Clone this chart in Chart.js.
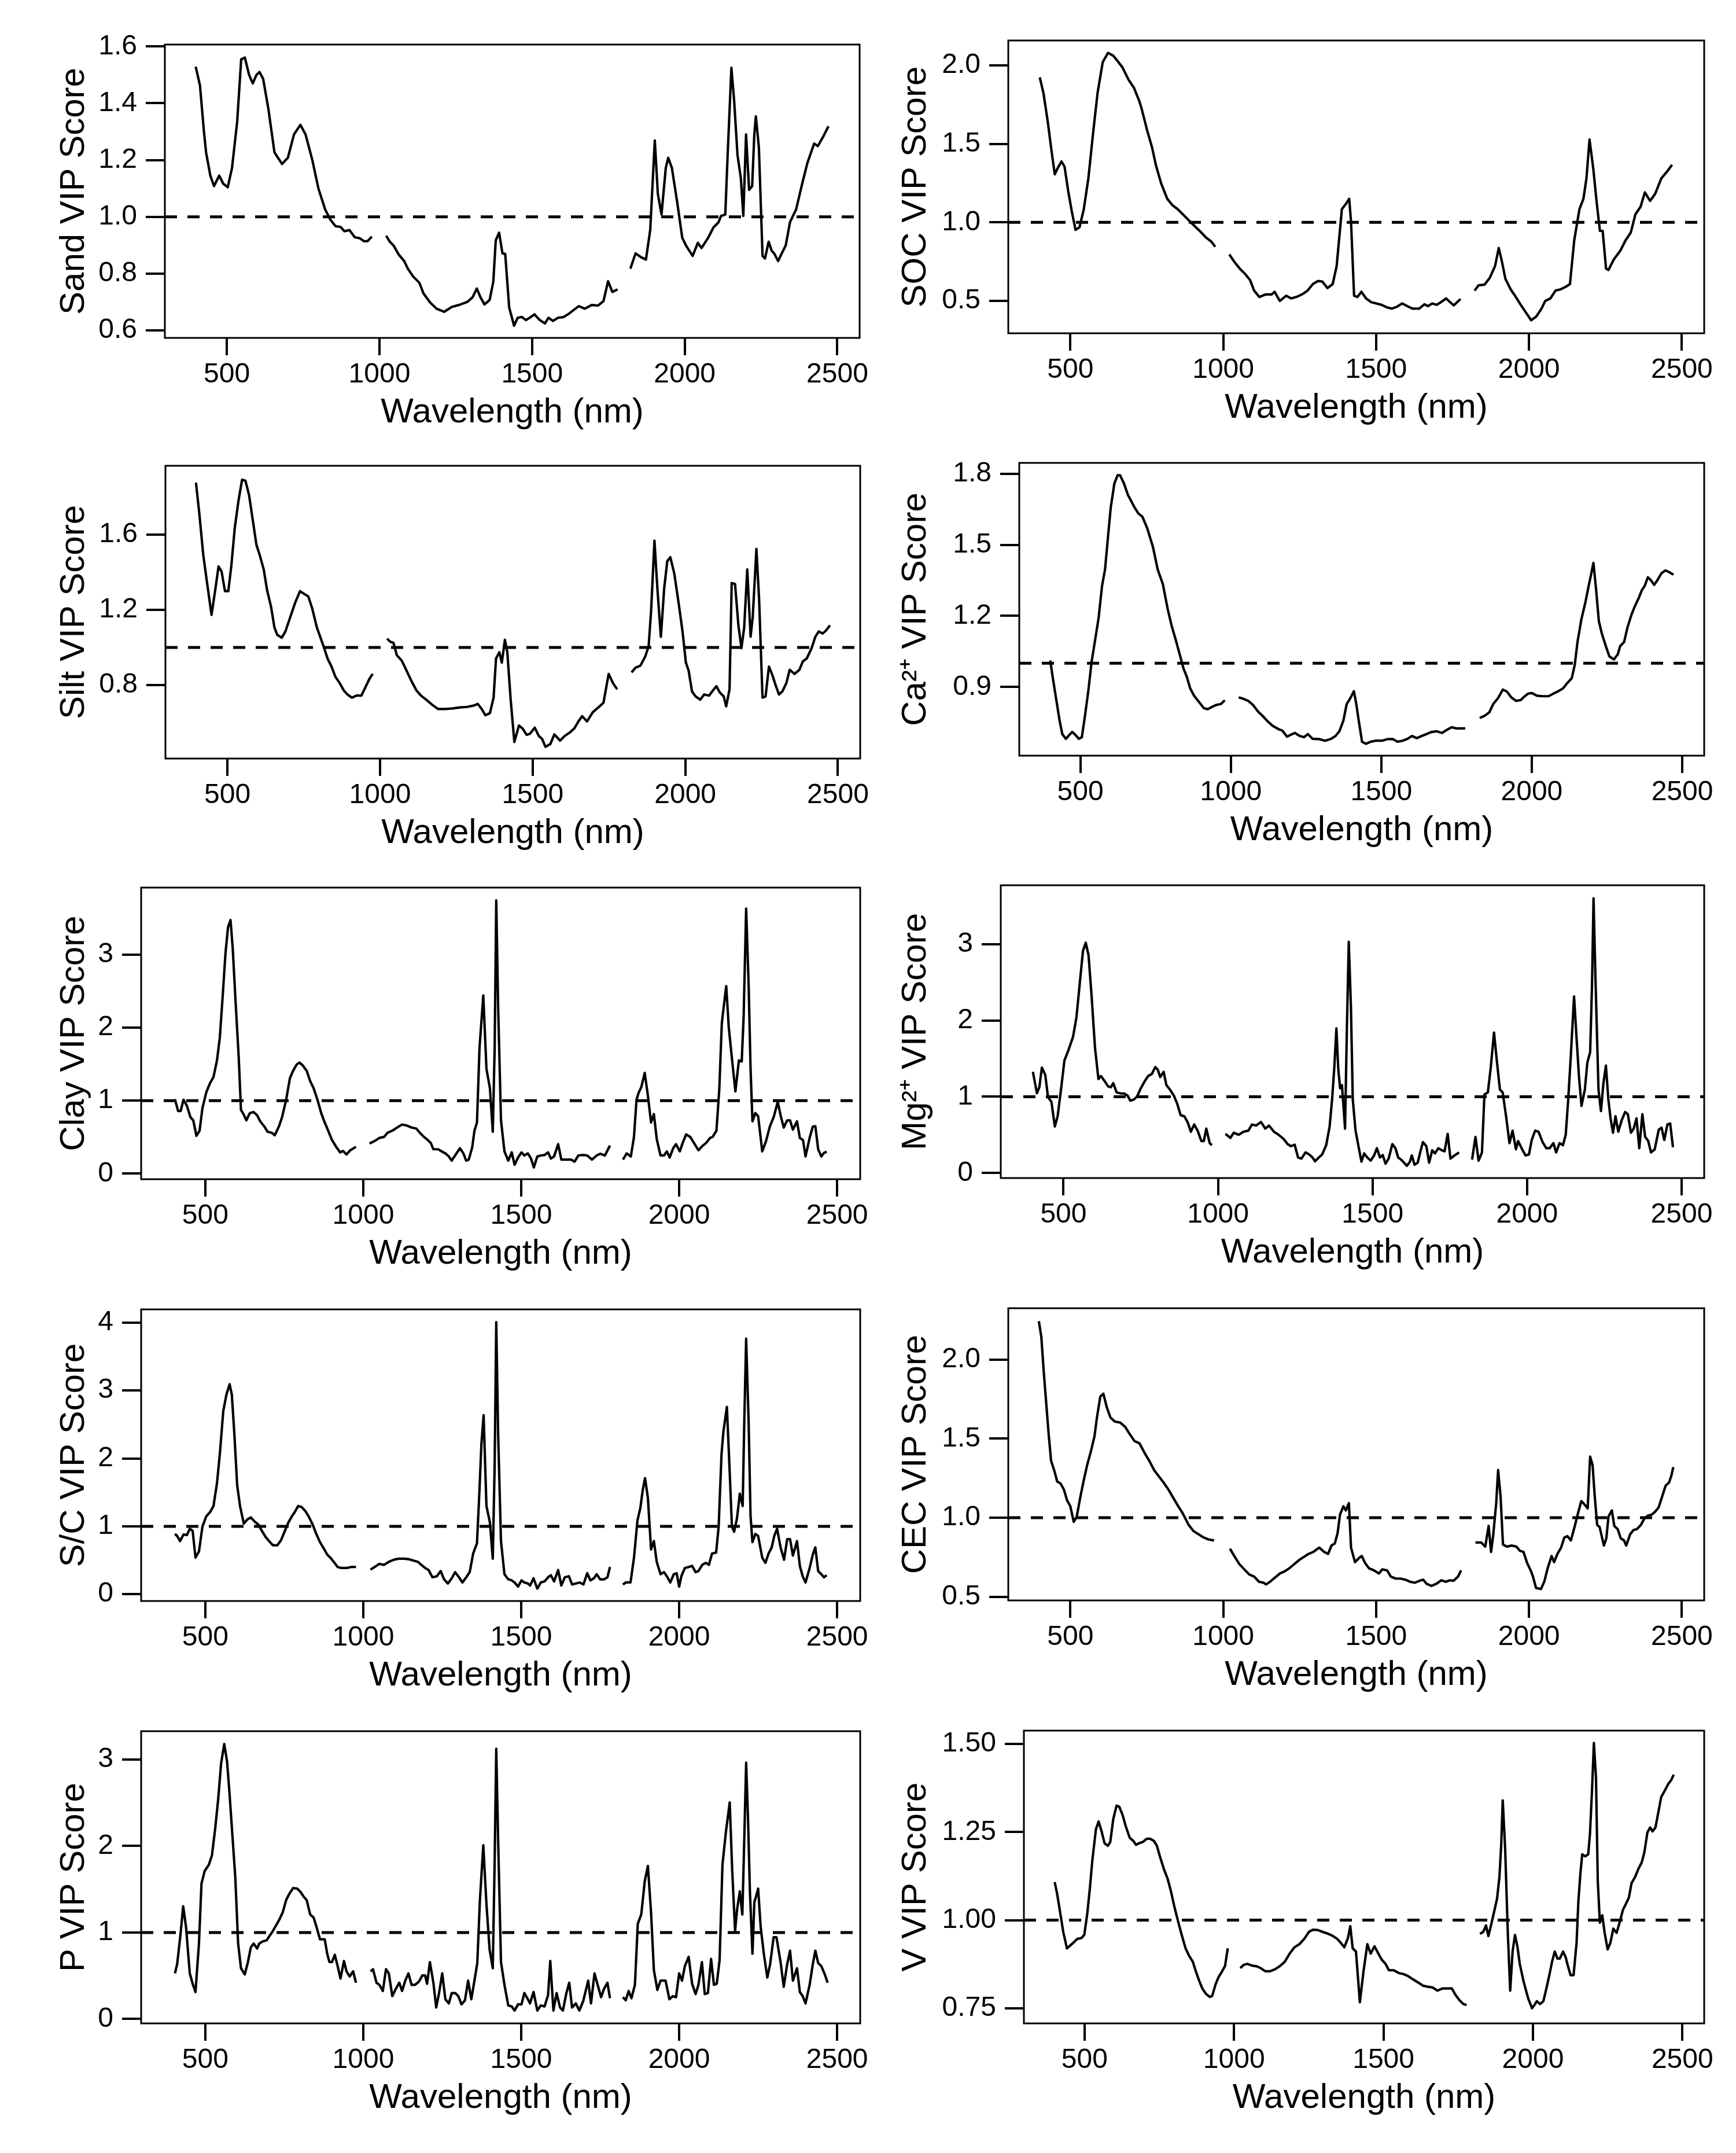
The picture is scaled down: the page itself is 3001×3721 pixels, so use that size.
<!DOCTYPE html>
<html><head><meta charset="utf-8">
<script src="https://cdn.jsdelivr.net/npm/chart.js@4.4.1/dist/chart.umd.min.js"></script>
<style>
html,body{margin:0;padding:0;background:#fff;}
body{width:3001px;height:3721px;position:relative;overflow:hidden;}
canvas{position:absolute;}
</style></head><body>
<script>
// ---------- data (wavelength nm, VIP score); null marks the removed water bands ----------
const wavelengthTicks = [500, 1000, 1500, 2000, 2500];
const wavelengthLabels = ['500', '1000', '1500', '2000', '2500'];
const vipThreshold = 1;

const sand = [[398,1.529],[412,1.463],[425,1.30],[432,1.227],[446,1.145],[458,1.108],[475,1.145],[488,1.117],[503,1.104],[517,1.172],[534,1.336],[547,1.555],[559,1.561],[573,1.50],[585,1.47],[597,1.50],[607,1.51],[619,1.486],[636,1.381],[656,1.227],[681,1.186],[700,1.208],[720,1.29],[741,1.324],[758,1.29],[780,1.20],[800,1.10],[822,1.026],[839,0.99],[856,0.967],[873,0.964],[885,0.949],[902,0.953],[919,0.928],[936,0.924],[949,0.914],[961,0.914],[975,0.93],[1000,null],[1022,0.933],[1034,0.912],[1046,0.899],[1063,0.867],[1081,0.844],[1093,0.817],[1110,0.79],[1131,0.767],[1144,0.73],[1166,0.698],[1187,0.676],[1212,0.665],[1237,0.682],[1263,0.69],[1288,0.70],[1305,0.716],[1319,0.747],[1331,0.716],[1344,0.691],[1361,0.707],[1373,0.771],[1381,0.917],[1392,0.944],[1403,0.871],[1412,0.869],[1425,0.68],[1441,0.616],[1453,0.644],[1466,0.647],[1480,0.636],[1492,0.644],[1508,0.656],[1525,0.636],[1542,0.624],[1554,0.644],[1568,0.633],[1585,0.644],[1602,0.646],[1619,0.657],[1636,0.671],[1653,0.685],[1673,0.676],[1695,0.689],[1716,0.687],[1734,0.703],[1749,0.773],[1763,0.735],[1780,0.744],[1800,null],[1822,0.817],[1839,0.871],[1856,0.858],[1873,0.849],[1887,0.953],[1902,1.269],[1912,1.081],[1924,1.008],[1938,1.172],[1946,1.208],[1958,1.172],[1975,1.054],[1992,0.926],[2004,0.899],[2026,0.862],[2043,0.908],[2055,0.890],[2077,0.926],[2094,0.962],[2111,0.981],[2119,1.003],[2133,1.008],[2141,1.227],[2153,1.525],[2162,1.409],[2173,1.217],[2184,1.136],[2192,1.003],[2201,1.29],[2211,1.095],[2221,1.108],[2228,1.29],[2233,1.354],[2243,1.245],[2255,0.862],[2263,0.853],[2275,0.912],[2285,0.88],[2293,0.871],[2306,0.844],[2318,0.871],[2331,0.899],[2345,0.981],[2365,1.026],[2385,1.117],[2402,1.19],[2424,1.258],[2436,1.249],[2453,1.281],[2471,1.319]];

const soc = [[400,1.923],[412,1.824],[426,1.643],[438,1.462],[449,1.306],[459,1.347],[471,1.388],[481,1.355],[493,1.199],[505,1.067],[517,0.952],[530,0.969],[544,1.084],[559,1.281],[574,1.561],[589,1.824],[606,2.021],[623,2.079],[640,2.062],[657,2.021],[670,1.988],[691,1.906],[708,1.857],[725,1.775],[733,1.725],[750,1.594],[767,1.479],[780,1.363],[797,1.248],[817,1.150],[834,1.109],[851,1.084],[868,1.051],[885,1.018],[902,0.985],[924,0.944],[944,0.903],[961,0.878],[974,0.845],[1000,null],[1020,0.796],[1037,0.747],[1054,0.706],[1071,0.673],[1088,0.632],[1101,0.566],[1118,0.525],[1138,0.541],[1158,0.541],[1168,0.558],[1185,0.50],[1206,0.533],[1222,0.516],[1239,0.525],[1260,0.544],[1276,0.566],[1293,0.607],[1310,0.627],[1324,0.623],[1341,0.582],[1358,0.607],[1371,0.722],[1388,1.084],[1401,1.117],[1412,1.150],[1418,1.003],[1428,0.533],[1439,0.525],[1452,0.558],[1467,0.516],[1484,0.492],[1501,0.484],[1518,0.475],[1535,0.459],[1552,0.451],[1569,0.464],[1585,0.484],[1602,0.467],[1619,0.451],[1641,0.451],[1658,0.479],[1670,0.467],[1683,0.484],[1698,0.475],[1712,0.492],[1729,0.516],[1742,0.492],[1754,0.472],[1776,0.512],[1800,null],[1822,0.566],[1835,0.599],[1855,0.604],[1872,0.648],[1889,0.722],[1901,0.837],[1911,0.755],[1923,0.640],[1940,0.574],[1957,0.525],[1973,0.475],[1990,0.426],[2007,0.377],[2024,0.401],[2041,0.451],[2053,0.50],[2070,0.516],[2087,0.566],[2104,0.574],[2121,0.591],[2134,0.607],[2148,0.886],[2165,1.084],[2178,1.150],[2188,1.281],[2198,1.528],[2210,1.347],[2222,1.117],[2232,0.946],[2241,0.946],[2252,0.706],[2260,0.697],[2277,0.763],[2299,0.821],[2316,0.886],[2333,0.936],[2348,1.051],[2365,1.100],[2379,1.191],[2396,1.137],[2413,1.183],[2433,1.281],[2451,1.322],[2468,1.367]];

const silt = [[397,1.874],[408,1.71],[421,1.49],[432,1.359],[448,1.173],[460,1.304],[471,1.430],[481,1.403],[492,1.299],[503,1.299],[513,1.436],[524,1.633],[536,1.775],[548,1.890],[559,1.885],[571,1.808],[584,1.666],[595,1.545],[606,1.490],[619,1.414],[630,1.304],[643,1.216],[654,1.107],[663,1.068],[678,1.052],[690,1.085],[706,1.162],[722,1.238],[738,1.299],[754,1.282],[765,1.271],[778,1.206],[793,1.107],[805,1.052],[817,0.997],[828,0.942],[841,0.899],[854,0.844],[868,0.811],[881,0.773],[893,0.751],[908,0.734],[923,0.745],[939,0.745],[952,0.789],[965,0.833],[976,0.860],[1000,null],[1023,1.047],[1034,1.030],[1044,1.025],[1055,0.959],[1071,0.931],[1087,0.877],[1103,0.822],[1119,0.773],[1134,0.745],[1155,0.718],[1171,0.696],[1190,0.674],[1214,0.674],[1238,0.677],[1262,0.682],[1285,0.685],[1309,0.693],[1320,0.701],[1333,0.674],[1345,0.641],[1360,0.652],[1372,0.734],[1380,0.942],[1391,0.975],[1399,0.920],[1409,1.041],[1417,0.975],[1428,0.723],[1440,0.499],[1455,0.586],[1467,0.570],[1480,0.537],[1491,0.542],[1507,0.575],[1520,0.531],[1531,0.515],[1542,0.473],[1558,0.488],[1571,0.539],[1590,0.506],[1605,0.531],[1621,0.548],[1637,0.572],[1650,0.608],[1662,0.636],[1678,0.608],[1697,0.657],[1713,0.679],[1732,0.707],[1749,0.860],[1763,0.811],[1777,0.778],[1800,null],[1824,0.868],[1837,0.893],[1853,0.904],[1869,0.953],[1880,1.008],[1888,1.194],[1899,1.567],[1909,1.304],[1920,1.057],[1931,1.315],[1941,1.458],[1951,1.479],[1964,1.392],[1978,1.238],[1991,1.085],[2002,0.920],[2011,0.877],[2022,0.767],[2034,0.740],[2049,0.723],[2062,0.751],[2078,0.745],[2091,0.773],[2102,0.795],[2113,0.762],[2126,0.740],[2134,0.688],[2145,0.778],[2152,1.342],[2163,1.337],[2174,1.118],[2184,0.997],[2193,1.107],[2203,1.414],[2214,1.057],[2221,1.162],[2233,1.523],[2242,1.249],[2253,0.734],[2263,0.740],[2274,0.899],[2285,0.855],[2296,0.800],[2307,0.751],[2318,0.767],[2331,0.811],[2342,0.882],[2358,0.860],[2374,0.882],[2385,0.926],[2398,0.942],[2414,0.997],[2426,1.057],[2437,1.085],[2450,1.074],[2461,1.090],[2474,1.118]];

const calcium = [[400,1.012],[408,0.942],[420,0.846],[431,0.758],[440,0.701],[452,0.681],[463,0.697],[473,0.710],[484,0.697],[495,0.681],[505,0.688],[516,0.784],[527,0.889],[537,1.003],[548,1.090],[561,1.195],[572,1.326],[582,1.396],[592,1.536],[601,1.658],[613,1.759],[624,1.794],[632,1.794],[645,1.759],[658,1.711],[669,1.685],[680,1.658],[693,1.632],[706,1.619],[722,1.571],[741,1.492],[757,1.396],[774,1.335],[790,1.230],[803,1.160],[817,1.099],[830,1.038],[843,0.977],[854,0.942],[865,0.894],[878,0.863],[894,0.837],[910,0.811],[923,0.806],[936,0.815],[951,0.824],[967,0.828],[980,0.844],[1000,null],[1026,0.856],[1042,0.850],[1058,0.841],[1074,0.824],[1090,0.797],[1107,0.776],[1123,0.754],[1139,0.736],[1160,0.721],[1171,0.716],[1187,0.690],[1200,0.699],[1213,0.706],[1229,0.693],[1243,0.688],[1256,0.701],[1272,0.681],[1293,0.680],[1313,0.673],[1332,0.680],[1348,0.693],[1361,0.714],[1374,0.758],[1385,0.828],[1396,0.850],[1409,0.882],[1417,0.828],[1425,0.758],[1436,0.669],[1449,0.660],[1465,0.669],[1481,0.673],[1502,0.673],[1522,0.680],[1538,0.680],[1554,0.669],[1570,0.673],[1586,0.680],[1602,0.693],[1618,0.684],[1634,0.693],[1650,0.701],[1667,0.710],[1683,0.713],[1702,0.706],[1718,0.719],[1734,0.730],[1750,0.725],[1779,0.725],[1800,null],[1827,0.769],[1843,0.778],[1859,0.793],[1872,0.828],[1888,0.853],[1904,0.889],[1917,0.881],[1932,0.856],[1948,0.841],[1964,0.845],[1975,0.859],[1988,0.872],[2001,0.874],[2017,0.863],[2036,0.861],[2056,0.861],[2072,0.872],[2088,0.882],[2104,0.894],[2117,0.915],[2133,0.937],[2143,0.994],[2152,1.090],[2165,1.186],[2178,1.256],[2189,1.326],[2197,1.374],[2205,1.424],[2214,1.309],[2223,1.178],[2233,1.125],[2246,1.073],[2258,1.029],[2273,1.016],[2286,1.038],[2294,1.073],[2307,1.090],[2318,1.151],[2331,1.204],[2342,1.239],[2355,1.274],[2366,1.309],[2375,1.326],[2386,1.363],[2395,1.352],[2407,1.331],[2418,1.352],[2431,1.380],[2444,1.392],[2455,1.386],[2471,1.374]];

const clay = [[404,1.018],[414,0.857],[422,0.857],[431,1.012],[442,0.928],[453,0.772],[462,0.730],[472,0.518],[482,0.588],[491,0.899],[503,1.111],[515,1.239],[526,1.323],[537,1.550],[546,1.861],[555,2.426],[564,3.020],[572,3.373],[580,3.472],[587,3.076],[595,2.426],[606,1.578],[613,0.871],[621,0.815],[630,0.730],[641,0.829],[653,0.843],[664,0.800],[674,0.716],[687,0.645],[697,0.574],[710,0.560],[720,0.526],[733,0.645],[743,0.772],[756,1.012],[768,1.309],[778,1.408],[789,1.493],[798,1.521],[809,1.479],[821,1.408],[832,1.267],[843,1.168],[855,1.012],[867,0.829],[878,0.701],[889,0.588],[901,0.461],[913,0.376],[927,0.291],[936,0.311],[947,0.263],[959,0.320],[977,0.368],[1000,null],[1020,0.413],[1036,0.447],[1051,0.489],[1066,0.503],[1077,0.560],[1092,0.588],[1107,0.631],[1123,0.673],[1138,0.659],[1153,0.631],[1168,0.617],[1179,0.560],[1192,0.503],[1204,0.461],[1214,0.419],[1222,0.334],[1237,0.334],[1248,0.305],[1260,0.277],[1271,0.235],[1280,0.178],[1293,0.263],[1306,0.348],[1317,0.277],[1326,0.178],[1334,0.192],[1345,0.362],[1352,0.588],[1360,0.701],[1368,1.719],[1380,2.440],[1390,1.436],[1401,1.168],[1410,0.574],[1416,1.719],[1421,3.741],[1427,2.285],[1436,0.730],[1447,0.305],[1459,0.178],[1470,0.291],[1479,0.122],[1490,0.221],[1501,0.291],[1510,0.249],[1521,0.277],[1531,0.207],[1540,0.085],[1551,0.235],[1562,0.249],[1574,0.255],[1585,0.291],[1594,0.207],[1604,0.235],[1617,0.404],[1627,0.192],[1643,0.192],[1658,0.192],[1669,0.164],[1681,0.249],[1696,0.255],[1709,0.249],[1724,0.192],[1739,0.249],[1750,0.272],[1765,0.249],[1781,0.385],[1800,null],[1822,0.192],[1834,0.277],[1847,0.235],[1857,0.503],[1865,1.012],[1872,1.111],[1880,1.182],[1891,1.380],[1901,1.069],[1911,0.701],[1920,0.815],[1929,0.475],[1941,0.249],[1952,0.249],[1961,0.305],[1970,0.221],[1981,0.348],[1990,0.404],[2002,0.305],[2011,0.419],[2022,0.537],[2035,0.503],[2047,0.419],[2061,0.320],[2073,0.376],[2085,0.419],[2098,0.489],[2106,0.503],[2118,0.588],[2127,1.154],[2135,2.059],[2141,2.285],[2149,2.567],[2157,2.002],[2169,1.493],[2178,1.126],[2189,1.550],[2198,1.535],[2204,2.143],[2212,3.628],[2220,2.567],[2226,1.436],[2232,0.716],[2241,0.829],[2250,0.786],[2263,0.305],[2275,0.447],[2287,0.645],[2300,0.786],[2312,0.984],[2321,0.800],[2331,0.631],[2342,0.730],[2351,0.730],[2360,0.603],[2373,0.716],[2382,0.489],[2392,0.461],[2400,0.235],[2413,0.489],[2423,0.645],[2431,0.650],[2440,0.334],[2450,0.235],[2458,0.283],[2467,0.300]];

const magnesium = [[401,1.327],[414,1.046],[422,1.127],[430,1.381],[441,1.286],[450,0.992],[461,0.934],[472,0.609],[481,0.744],[492,1.096],[503,1.476],[516,1.611],[531,1.787],[542,2.044],[553,2.504],[563,2.911],[572,3.019],[581,2.856],[591,2.315],[602,1.638],[613,1.232],[621,1.272],[633,1.205],[644,1.137],[653,1.124],[661,1.178],[672,1.056],[685,1.043],[696,1.043],[707,1.016],[716,0.948],[727,0.962],[738,1.002],[750,1.110],[763,1.205],[774,1.272],[786,1.299],[797,1.389],[805,1.354],[813,1.259],[824,1.327],[833,1.151],[844,1.096],[857,1.016],[868,0.907],[879,0.758],[891,0.744],[902,0.663],[912,0.541],[923,0.636],[934,0.555],[946,0.419],[954,0.419],[962,0.582],[973,0.392],[980,0.365],[1000,null],[1024,0.514],[1040,0.460],[1051,0.528],[1067,0.501],[1082,0.541],[1098,0.555],[1110,0.636],[1123,0.622],[1139,0.669],[1153,0.582],[1165,0.622],[1181,0.541],[1196,0.501],[1212,0.447],[1225,0.379],[1236,0.352],[1248,0.371],[1259,0.203],[1270,0.189],[1283,0.270],[1295,0.243],[1306,0.203],[1314,0.154],[1326,0.203],[1337,0.243],[1350,0.365],[1361,0.609],[1369,0.961],[1376,1.367],[1383,1.895],[1389,1.367],[1395,1.110],[1401,1.151],[1411,0.582],[1417,1.909],[1423,3.032],[1430,2.180],[1436,0.961],[1445,0.555],[1455,0.338],[1464,0.149],[1473,0.257],[1483,0.203],[1494,0.162],[1505,0.230],[1514,0.325],[1524,0.203],[1533,0.235],[1542,0.122],[1552,0.189],[1564,0.379],[1574,0.325],[1583,0.203],[1592,0.176],[1602,0.135],[1611,0.094],[1621,0.149],[1627,0.230],[1636,0.108],[1646,0.135],[1655,0.284],[1663,0.406],[1674,0.352],[1683,0.135],[1693,0.298],[1702,0.257],[1713,0.325],[1724,0.298],[1733,0.284],[1743,0.514],[1752,0.189],[1765,0.230],[1780,0.270],[1800,null],[1822,0.176],[1833,0.474],[1843,0.162],[1854,0.270],[1862,1.029],[1873,1.056],[1882,1.367],[1893,1.841],[1902,1.476],[1912,1.096],[1921,1.056],[1932,0.744],[1943,0.392],[1953,0.555],[1964,0.311],[1971,0.419],[1984,0.311],[1995,0.230],[2006,0.243],[2015,0.433],[2026,0.555],[2037,0.541],[2050,0.406],[2062,0.325],[2073,0.325],[2085,0.392],[2094,0.270],[2105,0.392],[2116,0.365],[2125,0.501],[2133,0.961],[2141,1.503],[2152,2.315],[2160,1.773],[2168,1.259],[2176,0.880],[2187,1.096],[2195,1.448],[2204,1.584],[2210,2.450],[2215,3.601],[2221,2.586],[2231,1.096],[2239,0.812],[2247,1.178],[2255,1.408],[2263,0.961],[2270,0.717],[2278,0.528],[2286,0.744],[2295,0.541],[2306,0.690],[2317,0.799],[2326,0.771],[2336,0.528],[2345,0.582],[2354,0.717],[2363,0.325],[2373,0.771],[2382,0.474],[2392,0.419],[2401,0.270],[2413,0.311],[2426,0.568],[2435,0.595],[2444,0.433],[2454,0.636],[2463,0.649],[2472,0.338]];

const sandClayRatio = [[404,0.888],[411,0.858],[420,0.782],[431,0.879],[442,0.873],[451,0.964],[460,0.934],[469,0.540],[480,0.630],[491,0.995],[503,1.147],[515,1.208],[526,1.299],[537,1.633],[546,2.059],[557,2.698],[567,2.941],[577,3.093],[584,2.941],[592,2.363],[601,1.603],[610,1.299],[622,1.040],[633,1.101],[644,1.132],[656,1.071],[668,1.025],[679,0.934],[691,0.842],[702,0.782],[714,0.721],[728,0.721],[740,0.797],[752,0.934],[763,1.056],[774,1.147],[783,1.208],[794,1.299],[805,1.284],[817,1.223],[827,1.147],[840,1.025],[850,0.903],[863,0.767],[873,0.690],[886,0.584],[896,0.538],[909,0.462],[919,0.401],[931,0.386],[947,0.386],[962,0.401],[977,0.401],[1000,null],[1023,0.362],[1036,0.401],[1051,0.447],[1066,0.432],[1081,0.477],[1097,0.508],[1112,0.523],[1130,0.523],[1146,0.514],[1161,0.492],[1173,0.477],[1184,0.432],[1196,0.386],[1207,0.356],[1219,0.249],[1233,0.265],[1245,0.341],[1256,0.219],[1268,0.158],[1280,0.234],[1291,0.325],[1303,0.249],[1314,0.173],[1326,0.249],[1337,0.325],[1348,0.599],[1360,0.751],[1368,1.542],[1374,2.211],[1381,2.637],[1390,1.299],[1401,1.056],[1410,0.523],[1416,1.907],[1421,4.006],[1427,2.363],[1436,0.782],[1447,0.295],[1459,0.219],[1470,0.204],[1479,0.173],[1490,0.112],[1501,0.204],[1510,0.173],[1521,0.158],[1528,0.128],[1539,0.234],[1551,0.082],[1562,0.173],[1574,0.189],[1585,0.249],[1594,0.280],[1604,0.189],[1617,0.356],[1627,0.128],[1638,0.249],[1651,0.265],[1661,0.143],[1673,0.158],[1686,0.173],[1697,0.143],[1709,0.310],[1719,0.204],[1730,0.234],[1739,0.295],[1750,0.219],[1762,0.219],[1773,0.249],[1781,0.401],[1800,null],[1822,0.143],[1831,0.173],[1846,0.173],[1857,0.538],[1868,1.086],[1877,1.268],[1885,1.542],[1892,1.709],[1901,1.420],[1911,0.660],[1920,0.782],[1929,0.477],[1941,0.295],[1952,0.325],[1961,0.265],[1972,0.173],[1983,0.295],[1992,0.310],[2000,0.112],[2007,0.265],[2018,0.386],[2030,0.401],[2041,0.417],[2052,0.325],[2061,0.341],[2073,0.432],[2084,0.462],[2094,0.432],[2104,0.599],[2117,0.614],[2125,0.995],[2134,2.059],[2140,2.394],[2151,2.759],[2159,1.907],[2167,0.995],[2174,0.919],[2183,1.117],[2192,1.481],[2201,1.299],[2206,2.516],[2212,3.763],[2220,2.516],[2226,1.147],[2232,0.767],[2241,0.888],[2250,0.858],[2263,0.538],[2273,0.462],[2283,0.599],[2293,0.690],[2301,0.858],[2310,0.964],[2321,0.690],[2332,0.508],[2342,0.812],[2351,0.812],[2360,0.569],[2373,0.782],[2382,0.417],[2391,0.265],[2400,0.173],[2413,0.386],[2423,0.584],[2431,0.690],[2440,0.341],[2450,0.295],[2458,0.249],[2467,0.280]];

const cec = [[397,2.242],[405,2.144],[413,1.922],[421,1.726],[429,1.529],[437,1.360],[448,1.294],[457,1.229],[468,1.216],[479,1.177],[489,1.111],[500,1.072],[511,0.974],[521,1.007],[532,1.124],[543,1.229],[555,1.333],[568,1.425],[579,1.516],[587,1.634],[598,1.765],[608,1.784],[619,1.699],[631,1.634],[645,1.608],[663,1.601],[679,1.575],[694,1.529],[710,1.484],[726,1.470],[742,1.412],[758,1.360],[774,1.301],[789,1.262],[805,1.222],[821,1.177],[837,1.124],[853,1.072],[864,1.039],[875,1.000],[887,0.954],[903,0.915],[919,0.896],[935,0.876],[951,0.863],[970,0.856],[1000,null],[1022,0.804],[1038,0.752],[1053,0.706],[1069,0.673],[1085,0.641],[1101,0.628],[1117,0.595],[1132,0.589],[1140,0.578],[1153,0.595],[1169,0.621],[1185,0.647],[1200,0.660],[1216,0.680],[1232,0.706],[1248,0.732],[1264,0.752],[1279,0.771],[1295,0.784],[1314,0.811],[1330,0.784],[1343,0.771],[1354,0.824],[1365,0.837],[1374,0.902],[1382,1.020],[1393,1.072],[1401,1.046],[1411,1.092],[1418,0.811],[1431,0.719],[1444,0.745],[1453,0.758],[1464,0.713],[1477,0.680],[1493,0.667],[1509,0.647],[1520,0.673],[1536,0.667],[1548,0.628],[1564,0.615],[1580,0.615],[1596,0.608],[1611,0.595],[1627,0.589],[1643,0.602],[1654,0.608],[1665,0.582],[1681,0.569],[1697,0.582],[1713,0.604],[1728,0.595],[1741,0.604],[1754,0.602],[1768,0.628],[1778,0.667],[1800,null],[1825,0.843],[1844,0.843],[1857,0.817],[1868,0.948],[1876,0.784],[1883,0.889],[1893,1.098],[1899,1.301],[1907,1.137],[1915,0.830],[1928,0.817],[1943,0.824],[1959,0.817],[1970,0.791],[1982,0.784],[1994,0.713],[2007,0.660],[2013,0.628],[2023,0.556],[2039,0.549],[2050,0.595],[2061,0.680],[2074,0.758],[2082,0.719],[2093,0.771],[2105,0.811],[2116,0.876],[2126,0.883],[2137,0.856],[2149,0.941],[2160,1.026],[2171,1.105],[2181,1.085],[2192,1.059],[2200,1.386],[2208,1.333],[2215,1.137],[2223,0.954],[2231,0.941],[2245,0.824],[2253,0.870],[2260,1.007],[2271,1.046],[2279,0.948],[2290,0.928],[2300,0.870],[2311,0.856],[2318,0.824],[2331,0.896],[2342,0.922],[2353,0.928],[2366,0.954],[2377,0.994],[2389,1.013],[2402,1.020],[2413,1.039],[2424,1.065],[2436,1.137],[2447,1.203],[2458,1.222],[2466,1.268],[2472,1.320]];

const phosphorus = [[404,0.527],[411,0.634],[422,0.993],[430,1.303],[439,1.065],[451,0.527],[460,0.407],[469,0.312],[480,0.873],[488,1.566],[498,1.710],[511,1.781],[521,1.889],[531,2.188],[541,2.546],[550,2.952],[560,3.179],[569,2.976],[577,2.594],[586,2.116],[595,1.638],[604,0.873],[613,0.587],[625,0.515],[635,0.658],[644,0.826],[653,0.873],[664,0.814],[671,0.873],[682,0.897],[694,0.909],[705,0.969],[714,1.017],[725,1.088],[736,1.160],[745,1.232],[756,1.375],[766,1.447],[778,1.514],[791,1.507],[801,1.471],[812,1.411],[821,1.375],[832,1.208],[843,1.172],[852,1.065],[863,0.921],[878,0.921],[886,0.754],[893,0.658],[901,0.658],[910,0.742],[919,0.611],[928,0.467],[939,0.670],[947,0.551],[957,0.491],[968,0.551],[977,0.419],[1000,null],[1023,0.551],[1031,0.575],[1042,0.419],[1051,0.395],[1062,0.324],[1072,0.575],[1081,0.527],[1092,0.264],[1103,0.348],[1114,0.419],[1123,0.324],[1133,0.443],[1143,0.527],[1153,0.395],[1164,0.395],[1176,0.431],[1187,0.503],[1196,0.503],[1202,0.407],[1211,0.658],[1222,0.419],[1231,0.133],[1240,0.300],[1250,0.527],[1260,0.228],[1271,0.180],[1280,0.300],[1291,0.300],[1301,0.264],[1311,0.169],[1322,0.216],[1332,0.443],[1342,0.228],[1352,0.443],[1361,0.646],[1369,1.351],[1380,2.008],[1390,1.327],[1400,0.802],[1410,0.587],[1416,1.829],[1421,3.124],[1427,2.068],[1436,0.658],[1447,0.395],[1459,0.157],[1470,0.145],[1479,0.097],[1490,0.169],[1501,0.169],[1510,0.300],[1521,0.228],[1528,0.180],[1539,0.312],[1551,0.097],[1562,0.157],[1574,0.145],[1585,0.276],[1592,0.670],[1602,0.097],[1612,0.300],[1623,0.133],[1632,0.097],[1643,0.300],[1652,0.419],[1661,0.133],[1673,0.180],[1684,0.097],[1696,0.204],[1712,0.443],[1721,0.180],[1732,0.527],[1742,0.395],[1753,0.252],[1762,0.348],[1773,0.419],[1781,0.240],[1800,null],[1822,0.252],[1831,0.216],[1840,0.324],[1849,0.240],[1860,0.395],[1869,1.100],[1880,1.208],[1891,1.590],[1901,1.769],[1911,1.232],[1920,0.563],[1931,0.336],[1941,0.443],[1957,0.443],[1969,0.228],[1980,0.264],[1990,0.252],[2000,0.527],[2009,0.443],[2018,0.611],[2030,0.718],[2041,0.407],[2052,0.288],[2061,0.395],[2072,0.658],[2081,0.288],[2091,0.300],[2101,0.694],[2110,0.395],[2119,0.407],[2128,0.682],[2137,1.781],[2148,2.164],[2160,2.503],[2168,1.710],[2177,1.017],[2183,1.256],[2192,1.476],[2200,1.208],[2206,2.068],[2212,2.964],[2218,2.307],[2224,1.471],[2232,0.754],[2238,1.351],[2244,1.423],[2250,1.507],[2258,1.065],[2268,0.754],[2279,0.479],[2288,0.634],[2299,0.945],[2308,0.945],[2321,0.658],[2331,0.372],[2342,0.634],[2351,0.790],[2360,0.443],[2373,0.587],[2382,0.312],[2391,0.264],[2400,0.180],[2413,0.395],[2423,0.634],[2431,0.790],[2440,0.646],[2450,0.611],[2461,0.515],[2470,0.419]];

const vanadium = [[400,1.108],[408,1.076],[419,1.018],[429,0.965],[441,0.920],[453,0.929],[465,0.938],[476,0.947],[489,0.949],[499,0.958],[509,1.018],[518,1.093],[526,1.170],[538,1.258],[547,1.280],[557,1.252],[567,1.218],[578,1.211],[586,1.222],[596,1.287],[607,1.325],[616,1.322],[627,1.299],[638,1.266],[651,1.234],[663,1.225],[672,1.214],[684,1.219],[695,1.222],[708,1.231],[719,1.231],[732,1.225],[742,1.211],[752,1.181],[765,1.146],[778,1.117],[789,1.082],[800,1.040],[813,0.996],[825,0.958],[838,0.920],[849,0.900],[862,0.882],[873,0.853],[883,0.829],[894,0.806],[906,0.791],[919,0.782],[927,0.785],[938,0.817],[948,0.838],[959,0.853],[970,0.870],[979,0.920],[1000,null],[1021,0.864],[1032,0.873],[1045,0.876],[1060,0.871],[1076,0.869],[1089,0.864],[1105,0.855],[1121,0.855],[1138,0.861],[1154,0.870],[1170,0.882],[1186,0.905],[1202,0.923],[1219,0.932],[1235,0.947],[1251,0.967],[1264,0.973],[1280,0.972],[1296,0.967],[1313,0.962],[1329,0.956],[1345,0.947],[1358,0.935],[1369,0.923],[1381,0.949],[1389,0.983],[1397,0.920],[1408,0.911],[1421,0.767],[1433,0.853],[1446,0.932],[1457,0.905],[1470,0.926],[1481,0.908],[1494,0.888],[1507,0.876],[1518,0.858],[1534,0.858],[1551,0.850],[1567,0.847],[1583,0.841],[1599,0.832],[1616,0.823],[1632,0.814],[1648,0.811],[1664,0.809],[1681,0.800],[1697,0.806],[1713,0.806],[1729,0.806],[1741,0.788],[1754,0.773],[1767,0.762],[1778,0.759],[1800,null],[1823,0.961],[1834,0.967],[1843,0.985],[1851,0.955],[1862,0.993],[1870,1.023],[1880,1.061],[1888,1.123],[1894,1.214],[1899,1.340],[1907,1.205],[1916,0.964],[1924,0.800],[1932,0.911],[1940,0.958],[1948,0.926],[1956,0.876],[1968,0.829],[1977,0.800],[1985,0.776],[1997,0.750],[2005,0.759],[2013,0.770],[2024,0.762],[2035,0.770],[2045,0.806],[2055,0.844],[2064,0.882],[2073,0.911],[2082,0.891],[2090,0.891],[2101,0.911],[2110,0.894],[2116,0.873],[2126,0.844],[2136,0.844],[2146,0.935],[2152,1.052],[2159,1.134],[2165,1.187],[2175,1.181],[2185,1.187],[2191,1.246],[2198,1.375],[2204,1.503],[2211,1.404],[2217,1.111],[2224,0.993],[2232,1.014],[2240,0.964],[2250,0.917],[2259,0.935],[2269,0.976],[2280,0.964],[2292,0.999],[2301,1.029],[2311,1.046],[2321,1.064],[2330,1.105],[2342,1.123],[2353,1.146],[2364,1.164],[2373,1.193],[2383,1.249],[2392,1.263],[2400,1.252],[2410,1.263],[2418,1.299],[2429,1.349],[2442,1.369],[2453,1.387],[2463,1.398],[2471,1.413]];

// y-axis tick values and their printed labels
const sandTicks = [0.6, 0.8, 1.0, 1.2, 1.4, 1.6];
const sandTickLabels = ['0.6', '0.8', '1.0', '1.2', '1.4', '1.6'];
const socTicks = [0.5, 1.0, 1.5, 2.0];
const socTickLabels = ['0.5', '1.0', '1.5', '2.0'];
const siltTicks = [0.8, 1.2, 1.6];
const siltTickLabels = ['0.8', '1.2', '1.6'];
const caTicks = [0.9, 1.2, 1.5, 1.8];
const caTickLabels = ['0.9', '1.2', '1.5', '1.8'];
const clayTicks = [0, 1, 2, 3];
const clayTickLabels = ['0', '1', '2', '3'];
const mgTicks = [0, 1, 2, 3];
const mgTickLabels = ['0', '1', '2', '3'];
const scTicks = [0, 1, 2, 3, 4];
const scTickLabels = ['0', '1', '2', '3', '4'];
const cecTicks = [0.5, 1.0, 1.5, 2.0];
const cecTickLabels = ['0.5', '1.0', '1.5', '2.0'];
const pTicks = [0, 1, 2, 3];
const pTickLabels = ['0', '1', '2', '3'];
const vTicks = [0.75, 1.00, 1.25, 1.50];
const vTickLabels = ['0.75', '1.00', '1.25', '1.50'];

// ---------- layout ----------
const X_MIN = 297, X_MAX = 2573;
const COL_LEFT = [88, 1543];
const PAD_TOP = 40, PAD_RIGHT = 60, X_AXIS_H = 165;
const FONT = '"Liberation Sans", Arial, Helvetica, sans-serif';

const panels = [
  {title: 'Sand VIP Score', data: sand, ticks: sandTicks, labels: sandTickLabels, yMin: 0.573, yMax: 1.607, col: 0, box: [285, 77, 1486, 584]},
  {title: 'SOC VIP Score', data: soc, ticks: socTicks, labels: socTickLabels, yMin: 0.294, yMax: 2.158, col: 1, box: [1743, 70, 2946, 576]},
  {title: 'Silt VIP Score', data: silt, ticks: siltTicks, labels: siltTickLabels, yMin: 0.411, yMax: 1.964, col: 0, box: [286, 805, 1487, 1311]},
  {title: 'Ca\u00B2\u207A VIP Score', data: calcium, ticks: caTicks, labels: caTickLabels, yMin: 0.610, yMax: 1.846, col: 1, box: [1762, 800, 2946, 1306]},
  {title: 'Clay VIP Score', data: clay, ticks: clayTicks, labels: clayTickLabels, yMin: -0.076, yMax: 3.916, col: 0, box: [244, 1534, 1487, 2038]},
  {title: 'Mg\u00B2\u207A VIP Score', data: magnesium, ticks: mgTicks, labels: mgTickLabels, yMin: -0.066, yMax: 3.772, col: 1, box: [1730, 1530, 2946, 2036]},
  {title: 'S/C VIP Score', data: sandClayRatio, ticks: scTicks, labels: scTickLabels, yMin: -0.10, yMax: 4.195, col: 0, box: [244, 2263, 1487, 2767]},
  {title: 'CEC VIP Score', data: cec, ticks: cecTicks, labels: cecTickLabels, yMin: 0.477, yMax: 2.324, col: 1, box: [1743, 2261, 2946, 2766]},
  {title: 'P VIP Score', data: phosphorus, ticks: pTicks, labels: pTickLabels, yMin: -0.051, yMax: 3.327, col: 0, box: [244, 2992, 1487, 3497]},
  {title: 'V VIP Score', data: vanadium, ticks: vTicks, labels: vTickLabels, yMin: 0.707, yMax: 1.538, col: 1, box: [1770, 2991, 2946, 3497]}
];

const framePlugin = {
  id: 'frame',
  afterDraw(chart) {
    const a = chart.chartArea, ctx = chart.ctx;
    ctx.save();
    ctx.strokeStyle = '#000';
    ctx.lineWidth = 3;
    ctx.strokeRect(a.left, a.top, a.right - a.left, a.bottom - a.top);
    ctx.restore();
  }
};

Chart.defaults.font.family = FONT;
Chart.defaults.color = '#000';

panels.forEach(p => {
  const [L, T, R, B] = p.box;
  const cl = COL_LEFT[p.col];
  const w = R + PAD_RIGHT - cl;
  const h = B - T + PAD_TOP + X_AXIS_H;
  const cv = document.createElement('canvas');
  cv.width = w; cv.height = h;
  cv.style.left = cl + 'px';
  cv.style.top = (T - PAD_TOP) + 'px';
  cv.style.width = w + 'px';
  cv.style.height = h + 'px';
  document.body.appendChild(cv);
  const yW = L - cl;

  new Chart(cv, {
    type: 'line',
    data: {
      datasets: [
        {
          data: p.data.map(d => ({x: d[0], y: d[1]})),
          borderColor: '#000', borderWidth: 4.2, pointRadius: 0, tension: 0,
          spanGaps: false, borderJoinStyle: 'round', fill: false
        },
        {
          data: [{x: X_MIN, y: vipThreshold}, {x: X_MAX, y: vipThreshold}],
          borderColor: '#000', borderWidth: 5, borderDash: [21, 18], pointRadius: 0, fill: false
        }
      ]
    },
    options: {
      responsive: false, animation: false, devicePixelRatio: 1,
      layout: {padding: {top: PAD_TOP, right: PAD_RIGHT, left: 0, bottom: 0}},
      plugins: {legend: {display: false}, tooltip: {enabled: false}},
      scales: {
        x: {
          type: 'linear', position: 'bottom', min: X_MIN, max: X_MAX, bounds: 'data',
          afterBuildTicks: s => { s.ticks = wavelengthTicks.map(v => ({value: v})); },
          afterFit: s => { s.height = X_AXIS_H; s.paddingLeft = 0; s.paddingRight = 0; },
          ticks: {autoSkip: false, maxRotation: 0, padding: 10, font: {size: 48, lineHeight: 1},
                  callback: (v, i) => wavelengthLabels[i]},
          grid: {display: true, drawOnChartArea: false, drawTicks: true, tickLength: 30, color: '#000', lineWidth: 4},
          border: {display: false},
          title: {display: true, text: 'Wavelength (nm)', font: {size: 60, lineHeight: 1}, padding: {top: 0, bottom: 6}}
        },
        y: {
          type: 'linear', position: 'left', min: p.yMin, max: p.yMax, bounds: 'data',
          afterBuildTicks: s => { s.ticks = p.ticks.map(v => ({value: v})); },
          afterFit: s => { s.width = yW; s.paddingTop = 0; s.paddingBottom = 0; },
          ticks: {autoSkip: false, padding: 15, font: {size: 48, lineHeight: 1},
                  callback: (v, i) => p.labels[i]},
          grid: {display: true, drawOnChartArea: false, drawTicks: true, tickLength: 33, color: '#000', lineWidth: 4},
          border: {display: false},
          title: {display: true, text: p.title, font: {size: 60, lineHeight: 1}, padding: {top: 10, bottom: 0}}
        }
      }
    },
    plugins: [framePlugin]
  });
});
</script>
</body></html>
